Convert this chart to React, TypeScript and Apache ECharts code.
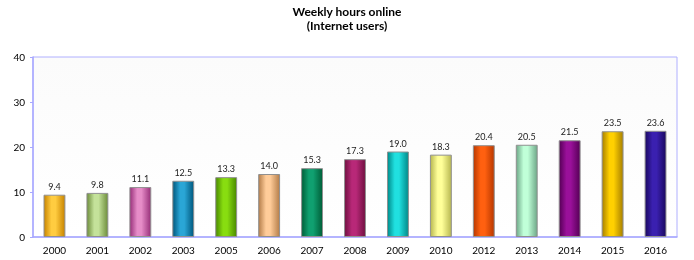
import React, { useEffect, useRef } from "react";
import * as echarts from "echarts";

const years = ["2000","2001","2002","2003","2005","2006","2007","2008","2009","2010","2012","2013","2014","2015","2016"];
const hours = [9.4, 9.8, 11.1, 12.5, 13.3, 14.0, 15.3, 17.3, 19.0, 18.3, 20.4, 20.5, 21.5, 23.5, 23.6];
const darkColors = ["#C88400","#6E8E3C","#98307A","#00587E","#4A8A00","#B57E4A","#005E38","#701040","#008A8A","#B8B850","#B83800","#6EA888","#560056","#A88000","#1A0860"];
const lightColors = ["#FFCC40","#C4E29A","#E68CC8","#2AA6D6","#88DD10","#FFCC99","#10A070","#B82878","#20E0E0","#FFFF99","#FF6010","#C0FFD8","#9A109A","#FFD000","#3A20B0"];
const yTicks = [0, 10, 20, 30, 40];

export default function App() {
  const ref = useRef<HTMLDivElement>(null);
  useEffect(() => {
    if (!ref.current) return;
    const chart = echarts.init(ref.current, null, { renderer: "svg" });
    const font = "Lato, 'Open Sans', sans-serif";
    chart.setOption({
      animation: false,
      textStyle: { fontFamily: font },
      title: {
        text: "Weekly hours online\n(Internet users)",
        left: "center",
        top: 4,
        padding: [0, 5],
        textStyle: { fontSize: 12, fontWeight: "bold", color: "#000", lineHeight: 14, fontFamily: font },
      },
      grid: {
        left: 33, right: 17, top: 57, bottom: 23,
        show: true,
        borderColor: "#B0B0FF",
        borderWidth: 1,
        backgroundColor: new echarts.graphic.LinearGradient(0, 0, 0, 1, [
          { offset: 0, color: "#FBFBFB" },
          { offset: 1, color: "#FFFFFF" },
        ]),
      },
      xAxis: {
        type: "category",
        data: years,
        axisLine: { lineStyle: { color: "#A8A8FF", width: 1.5 } },
        axisTick: { show: false },
        axisLabel: { color: "#000", fontSize: 10, margin: 8, fontFamily: font },
      },
      yAxis: {
        type: "value",
        min: yTicks[0],
        max: yTicks[yTicks.length - 1],
        interval: 10,
        axisLine: { show: true, lineStyle: { color: "#A8A8FF", width: 1.5 } },
        axisTick: { show: true, length: 3, lineStyle: { color: "#A8A8FF" } },
        splitLine: { show: false },
        axisLabel: { color: "#000", fontSize: 10, margin: 8, fontFamily: font },
      },
      series: [
        {
          type: "bar",
          barWidth: "51%",
          data: hours.map((v, i) => ({
            value: v,
            itemStyle: {
              color: new echarts.graphic.LinearGradient(0, 0, 1, 0, [
                { offset: 0, color: darkColors[i] },
                { offset: 0.35, color: lightColors[i] },
                { offset: 0.55, color: lightColors[i] },
                { offset: 1, color: darkColors[i] },
              ]),
              borderColor: "#909090",
              borderWidth: 1,
            },
          })),
          label: {
            show: true,
            position: "top",
            distance: 4,
            color: "#222",
            fontSize: 9,
            fontFamily: font,
            formatter: (p: any) => Number(p.value).toFixed(1),
          },
        },
      ],
    });
    return () => chart.dispose();
  }, []);
  return <div ref={ref} style={{ position: "fixed", left: 0, top: 0, width: 694, height: 260 }} />;
}
